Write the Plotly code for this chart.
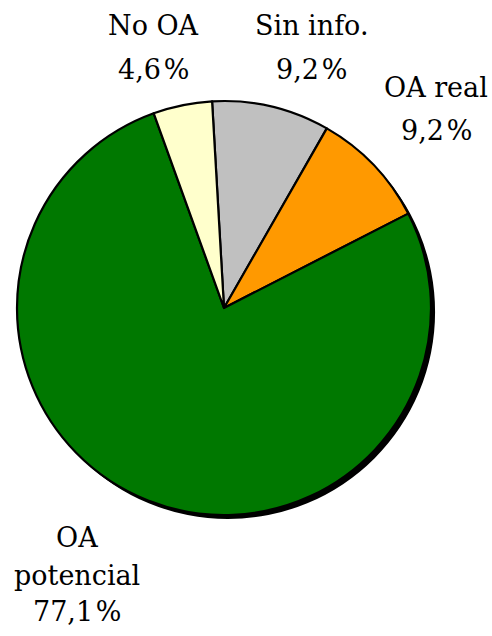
import plotly.graph_objects as go

labels = ["Sin info.", "OA real", "OA potencial", "No OA"]
values = [9.2, 9.2, 77.1, 4.6]
colors = ["#C0C0C0", "#FF9900", "#007800", "#FFFFCC"]
label_lines = [["Sin info.", "9,2\u200a%"], ["OA real", "9,2\u200a%"],
               ["OA", "potencial", "77,1\u200a%"], ["No OA", "4,6\u200a%"]]

W, H = 492, 636
cx, cy, r = 224, 308, 207
sh = 4

def dom(cx, cy, r):
    return dict(x=[(cx - r) / W, (cx + r) / W], y=[(H - cy - r) / H, (H - cy + r) / H])

fig = go.Figure()
fig.add_trace(go.Pie(values=[1], marker=dict(colors=["black"], line=dict(width=0)),
                     textinfo="none", hoverinfo="skip", sort=False, showlegend=False,
                     domain=dom(cx + sh, cy + sh, r)))
fig.add_trace(go.Pie(labels=labels, values=values, sort=False, direction="clockwise",
                     rotation=-3.3, textinfo="none", showlegend=False,
                     marker=dict(colors=colors, line=dict(color="black", width=2.2)),
                     domain=dom(cx, cy, r)))

pos = [(311, [26, 69]), (436, [87, 130]), (77, [537, 575, 611]), (153, [25, 69])]
for lines, (x, ys) in zip(label_lines, pos):
    for t, y in zip(lines, ys):
        fig.add_annotation(text=t, x=x / W, y=1 - y / H, xref="paper", yref="paper",
                           xanchor="center", yanchor="middle", showarrow=False,
                           font=dict(family="'DejaVu Serif', serif", size=27, color="black"))

fig.update_layout(width=W, height=H, margin=dict(l=0, r=0, t=0, b=0),
                  paper_bgcolor="white", plot_bgcolor="white")
fig.write_html("out.html", post_script="document.body.style.margin='0';",
               config={"displayModeBar": False})
